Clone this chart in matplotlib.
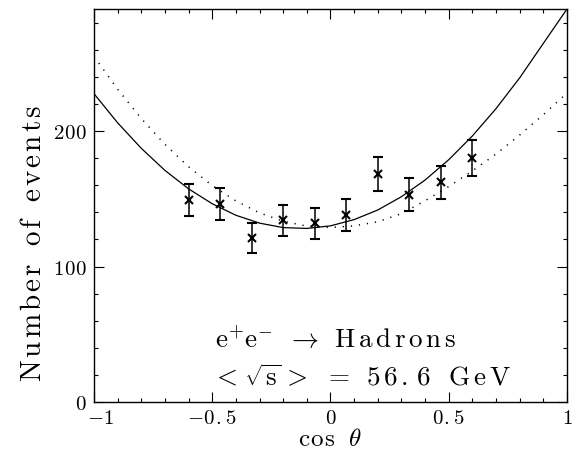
import matplotlib
matplotlib.use("Agg")
import matplotlib.pyplot as plt
import matplotlib.transforms as mtransforms
from matplotlib.ticker import MultipleLocator

plt.rcParams['mathtext.fontset'] = 'cm'
plt.rcParams['font.family'] = ['cmr10', 'DejaVu Serif']
plt.rcParams['axes.unicode_minus'] = False

# measured points (bin centres in cos theta)
cos_pts = [-0.6, -0.467, -0.333, -0.2, -0.067, 0.067, 0.2, 0.333, 0.467, 0.6]
events = [149, 146, 121, 134, 132, 138, 168, 153, 162, 180]
errors = [12, 12, 11, 11.5, 11.5, 11.5, 12.5, 12, 12.5, 13]

# curves at steps of 0.1
cos_grid = [-1.0, -0.9, -0.8, -0.7, -0.6, -0.5, -0.4, -0.3, -0.2, -0.1, 0.0,
            0.1, 0.2, 0.3, 0.4, 0.5, 0.6, 0.7, 0.8, 0.9, 1.0]
fit_solid = [227.5, 206.0, 187.2, 170.9, 157.3, 146.3, 137.8, 132.0, 128.7, 128.1, 130.0,
             134.6, 141.7, 151.5, 163.8, 178.8, 196.3, 216.5, 239.2, 264.6, 290.0]
fit_dotted = [255.0, 230.8, 209.2, 190.1, 173.6, 159.7, 148.4, 139.6, 133.4, 129.8, 128.8,
              130.0, 133.0, 139.0, 148.5, 159.0, 170.5, 183.0, 197.0, 212.0, 228.0]

xticks = [-1, -0.5, 0, 0.5, 1]
xtick_labels = ['-1', '-0.5', '0', '0.5', '1']
yticks = [0, 100, 200]
ytick_labels = ['0', '100', '200']


def spaced(s, gap, word_gap=r'\ '):
    # typewriter-like letter spacing, done in mathtext
    parts = []
    for ch in s:
        if ch == ' ':
            parts.append(word_gap)
        elif ch == '-':
            parts.append('-')
        else:
            parts.append(r'\mathrm{%s}' % ch)
    return '$' + (r'\hspace{%g}' % gap).join(parts) + '$'


fig = plt.figure(figsize=(5.75, 4.56), dpi=100)
ax = fig.add_axes([0.1635, 0.1162, 0.8225, 0.8618])

ax.plot(cos_grid, fit_solid, color='black', lw=0.9)
ax.plot(cos_grid, fit_dotted, color='black', lw=1.1, linestyle=(0, (0.8, 4.5)))
ax.errorbar(cos_pts, events, yerr=errors, fmt='x', color='black', ms=6, mew=1.5,
            elinewidth=1.1, capsize=3.5, capthick=1.1)

ax.set_xlim(-1, 1)
ax.set_ylim(0, 290)
ax.set_xticks(xticks)
ax.set_xticklabels([spaced(t, 0.04) for t in xtick_labels], fontsize=15)
ax.set_yticks(yticks)
ax.set_yticklabels([spaced(t, 0.04) for t in ytick_labels], fontsize=15)
ax.xaxis.set_minor_locator(MultipleLocator(0.1))
ax.yaxis.set_minor_locator(MultipleLocator(20))
ax.tick_params(which='both', direction='in', top=True, right=True, width=0.8)
ax.tick_params(which='major', length=7)
ax.tick_params(axis='x', which='major', pad=5)
ax.tick_params(axis='y', which='major', pad=5)
ax.tick_params(which='minor', length=3)
for s in ax.spines.values():
    s.set_linewidth(1.0)

# the "-1" label sits a little to the right of the corner, as in the original
first = ax.get_xticklabels()[0]
first.set_transform(first.get_transform()
                    + mtransforms.ScaledTranslation(7 / 100, 0, fig.dpi_scale_trans))

ax.set_xlabel(r'$\mathrm{c\hspace{0.06}o\hspace{0.06}s}\ \ \theta$', fontsize=18, labelpad=1)
ax.text(-0.128, 0.405, spaced('Number of events', 0.12, r'\ \hspace{0.12}'), fontsize=21,
        rotation=90, ha='center', va='center', transform=ax.transAxes)

line1 = (r'$\mathrm{e}^{+}\mathrm{e}^{-}\hspace{0.5}\rightarrow\hspace{0.5}$'
         + spaced('Hadrons', 0.15))
line2 = (r'$<\hspace{0.1}\sqrt{\mathrm{s}}\hspace{0.1}>\hspace{0.5}=\hspace{0.5}$'
         + spaced('56.6 GeV', 0.15, r'\ \hspace{0.15}'))
ax.text(-0.49, 47, line1, fontsize=19.5, ha='left', va='center')
ax.text(-0.5, 19, line2, fontsize=19.5, ha='left', va='center')

fig.savefig('out.png', dpi=100)
